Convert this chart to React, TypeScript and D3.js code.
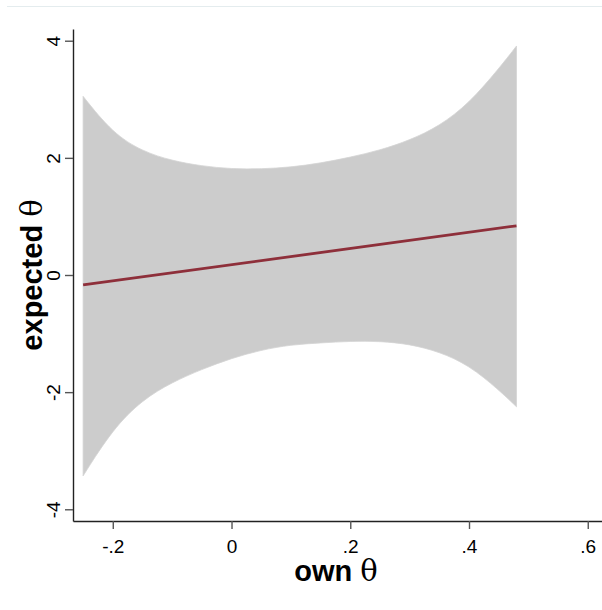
import { useRef, useEffect } from 'react';
import * as d3 from 'd3';

// values
const xVals = [-0.25, -0.2, -0.15, -0.1, -0.05, 0, 0.05, 0.1, 0.15, 0.2, 0.25, 0.3, 0.35, 0.4, 0.45, 0.48];
const upperVals = [3.05, 2.42, 2.11, 1.95, 1.86, 1.81, 1.81, 1.84, 1.91, 2.01, 2.13, 2.3, 2.54, 2.93, 3.52, 3.91];
const lowerVals = [-3.43, -2.63, -2.13, -1.83, -1.61, -1.42, -1.28, -1.19, -1.16, -1.13, -1.13, -1.18, -1.31, -1.54, -1.96, -2.25];
const fitX = [-0.25, 0.48];
const fitY = [-0.17, 0.84];

const xTicks = [-0.2, 0, 0.2, 0.4, 0.6];
const xTickLabels = ['-.2', '0', '.2', '.4', '.6'];
const yTicks = [-4, -2, 0, 2, 4];
const yTickLabels = ['-4', '-2', '0', '2', '4'];

const width = 602;
const height = 610;
const font = '"Liberation Sans", Arial, Helvetica, sans-serif';
const serif = '"DejaVu Serif", "Liberation Serif", serif';

export default function App() {
  const svgRef = useRef<SVGSVGElement>(null);

  useEffect(() => {
    const svg = d3.select(svgRef.current);
    svg.selectAll('*').remove();

    const x = d3.scaleLinear().domain([-0.267, 0.624]).range([73, 602]);
    const y = d3.scaleLinear().domain([-4.2, 4.2]).range([521, 29]);

    // faint frame line at the top
    svg.append('line')
      .attr('x1', 7).attr('x2', width)
      .attr('y1', 6.5).attr('y2', 6.5)
      .attr('stroke', '#e4ecee').attr('stroke-width', 1);

    const band = xVals.map((v, i) => ({ x: v, lo: lowerVals[i], hi: upperVals[i] }));
    const area = d3.area<any>()
      .x((d) => x(d.x))
      .y0((d) => y(d.lo))
      .y1((d) => y(d.hi))
      .curve(d3.curveBasis);

    svg.append('path')
      .attr('d', area(band))
      .attr('fill', '#cccccc')
      .attr('stroke', '#d4d4d4')
      .attr('stroke-width', 0.8);

    const fit = fitX.map((v, i) => [x(v), y(fitY[i])] as [number, number]);
    svg.append('path')
      .attr('d', d3.line()(fit))
      .attr('fill', 'none')
      .attr('stroke', '#8e2f3a')
      .attr('stroke-width', 2.8);

    // x axis
    const gx = svg.append('g')
      .attr('transform', 'translate(0,521)')
      .call(
        d3.axisBottom(x)
          .tickValues(xTicks)
          .tickSize(8)
          .tickSizeOuter(0)
          .tickFormat((_, i) => xTickLabels[i])
      );
    gx.select('.domain').attr('stroke', '#222').attr('stroke-width', 1.4);
    gx.selectAll('.tick line').attr('stroke', '#555').attr('stroke-width', 1.4);
    gx.selectAll('.tick text')
      .attr('font-family', font)
      .attr('font-size', 19)
      .attr('fill', '#000')
      .attr('dy', null)
      .attr('y', 32);

    // y axis with rotated labels
    const gy = svg.append('g')
      .attr('transform', 'translate(73,0)')
      .call(
        d3.axisLeft(y)
          .tickValues(yTicks)
          .tickSize(8)
          .tickSizeOuter(0)
          .tickFormat((_, i) => yTickLabels[i])
      );
    gy.select('.domain').attr('stroke', '#222').attr('stroke-width', 1.4);
    gy.selectAll('.tick line').attr('stroke', '#555').attr('stroke-width', 1.4);
    gy.selectAll('.tick text')
      .attr('font-family', font)
      .attr('font-size', 19)
      .attr('fill', '#000')
      .attr('x', null)
      .attr('dy', null)
      .attr('text-anchor', 'middle')
      .attr('transform', 'translate(-13,0) rotate(-90)');

    // axis titles
    const xt = svg.append('text')
      .attr('x', 336)
      .attr('y', 581)
      .attr('text-anchor', 'middle')
      .attr('font-family', font)
      .attr('font-size', 29)
      .attr('font-weight', 'bold');
    xt.append('tspan').text('own ');
    xt.append('tspan').attr('font-family', serif).attr('font-weight', 'normal').text('θ');

    const yt = svg.append('text')
      .attr('transform', 'translate(42,275) rotate(-90)')
      .attr('text-anchor', 'middle')
      .attr('font-family', font)
      .attr('font-size', 29)
      .attr('font-weight', 'bold');
    yt.append('tspan').text('expected ');
    yt.append('tspan').attr('font-family', serif).attr('font-weight', 'normal').text('θ');
  }, []);

  return (
    <svg
      ref={svgRef}
      width={width}
      height={height}
      style={{ position: 'absolute', left: 0, top: 0, background: '#fff' }}
    />
  );
}
